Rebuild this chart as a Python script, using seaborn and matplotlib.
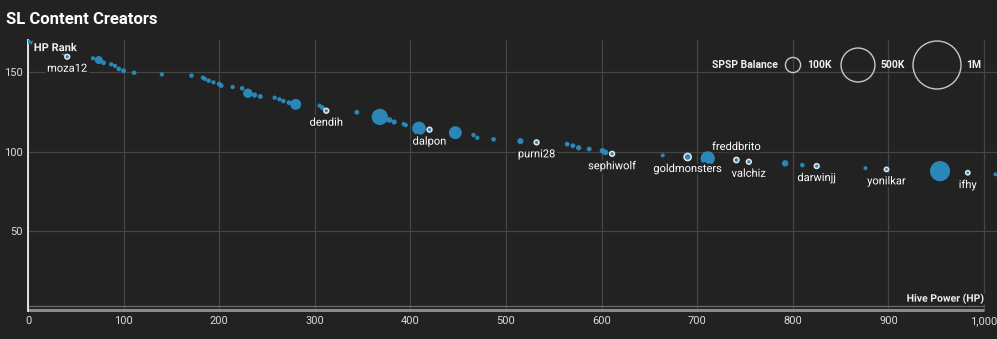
import matplotlib
matplotlib.use("Agg")
import matplotlib.pyplot as plt
import matplotlib.patheffects as pe
from matplotlib.ticker import FuncFormatter
import seaborn as sns
import pandas as pd

# ---- data ----
hp = [1, 5, 20, 26, 32, 37, 39, 41, 68, 74, 79, 87, 91, 95, 100, 111, 140, 171,
      183, 185, 189, 194, 200, 202, 214, 224, 230, 237, 243, 258, 263, 267, 273, 280,
      305, 308, 312, 344, 368, 378, 383, 393, 395, 409, 420, 447, 466, 470, 487, 515,
      532, 564, 570, 576, 587, 601, 604, 611, 664, 690, 711, 741, 754, 792, 810, 825,
      876, 898, 954, 983, 1012]
rank = [169.1, 168.5, 165.0, 164.0, 163.4, 162.0, 161.5, 159.8, 158.8, 157.7, 156.0,
        155.0, 154.0, 152.1, 151.0, 149.7, 148.7, 147.9, 146.6, 145.8, 144.7, 143.7,
        142.6, 141.6, 140.7, 139.9, 136.8, 135.7, 134.8, 134.0, 133.0, 131.9, 130.9,
        129.8, 129.0, 127.7, 125.8, 124.8, 121.9, 120.0, 118.7, 117.4, 116.8, 114.7,
        113.9, 112.0, 110.5, 108.8, 107.8, 106.7, 105.9, 104.8, 103.8, 102.5, 101.7,
        100.6, 99.6, 98.7, 97.7, 96.7, 95.8, 94.8, 93.7, 92.7, 91.6, 91.0, 89.7, 88.9,
        87.8, 86.8, 85.8]
balance_k = [8, 8, 8, 8, 8, 8, 8, 10, 8, 28, 10, 8, 8, 10, 10, 9, 8, 9, 8, 8, 9, 8,
             10, 10, 8, 9, 38, 12, 10, 8, 8, 9, 10, 52, 8, 10, 10, 10, 115, 14, 12, 8,
             9, 80, 10, 72, 8, 8, 9, 16, 10, 10, 10, 12, 10, 14, 14, 10, 7, 22, 88, 12,
             10, 18, 9, 10, 7, 8, 175, 8, 7]
names = [""] * len(hp)
labelled = {7: "moza12", 36: "dendih", 44: "dalpon", 50: "purni28", 57: "sephiwolf",
            59: "goldmonsters", 61: "freddbrito", 62: "valchiz", 65: "darwinjj",
            67: "yonilkar", 69: "ifhy"}
for i, n in labelled.items():
    names[i] = n
above = ["freddbrito"]

legend_values_k = [100, 500, 1000]
legend_labels = ["100K", "500K", "1M"]
x_ticks = [0, 100, 200, 300, 400, 500, 600, 700, 800, 900, 1000]
y_ticks = [50, 100, 150]

# ---- styling ----
BG = "#222222"
BLUE = "#2a87b8"
GRID = "#454545"
TXT = "#dadada"
MAX_S = 1194.0  # marker area (pt^2) for 1M

sns.set_theme(style="dark")
plt.rcParams["font.family"] = ["Roboto", "DejaVu Sans"]

df = pd.DataFrame({"hp": hp, "rank": rank, "balance": [b * 1000 for b in balance_k],
                   "name": names})

fig = plt.figure(figsize=(9.97, 3.39), dpi=100, facecolor=BG)
ax = fig.add_axes([28 / 997, (339 - 310.7) / 339, 969 / 997, 270.7 / 339])
ax.set_facecolor(BG)

plain = df[df["name"] == ""]
marked = df[df["name"] != ""]
sns.scatterplot(data=plain, x="hp", y="rank", size="balance", sizes=(0, MAX_S),
                size_norm=(0, 1e6), color=BLUE, linewidth=0, legend=False, ax=ax,
                zorder=3, alpha=1)
sns.scatterplot(data=marked, x="hp", y="rank", size="balance", sizes=(0, MAX_S),
                size_norm=(0, 1e6), color=BLUE, edgecolor="#e6e6e6", linewidth=1.1,
                legend=False, ax=ax, zorder=4, alpha=1)

stroke = [pe.withStroke(linewidth=3.5, foreground=BG)]
for _, r in marked.iterrows():
    off = 13 if r["name"] in above else -12
    ax.annotate(r["name"], (r["hp"], r["rank"]), xytext=(0, off),
                textcoords="offset pixels", ha="center", va="center",
                color="white", fontsize=8, path_effects=stroke, zorder=6)

ax.set_xlim(0, 1013.6)
ax.set_ylim(0, 170.3)
ax.set_xticks(x_ticks)
ax.set_yticks(y_ticks)
ax.xaxis.set_major_formatter(FuncFormatter(lambda v, p: f"{int(v):,}"))
ax.grid(True, color=GRID, linewidth=0.9)
ax.tick_params(axis="both", length=0, colors=TXT, labelsize=8)
ax.tick_params(axis="x", pad=4)
ax.tick_params(axis="y", pad=4)
ax.set_xlabel("")
ax.set_ylabel("")
for s in ["top", "right", "bottom"]:
    ax.spines[s].set_visible(False)
ax.spines["left"].set_color("#f0f0f0")
ax.spines["left"].set_linewidth(1.3)
ax.hlines([2.8], 0, 1000, color="#6a6a6a", linewidth=0.9, zorder=2)
ax.hlines([0.4], 0, 1000, color="#8a8a8a", linewidth=2.2, zorder=2, clip_on=False)

ax.text(0.006, 0.970, "HP Rank", transform=ax.transAxes, ha="left", va="center",
        color="#eeeeee", fontsize=8, fontweight="bold", path_effects=stroke, zorder=7)
ax.text(0.986, 0.045, "Hive Power (HP)", transform=ax.transAxes, ha="right",
        va="center", color="#eeeeee", fontsize=7.5, fontweight="bold",
        path_effects=stroke, zorder=7)

# size legend
ly = (310.7 - 65) / 270.7
ax.text((778 - 28) / 969, ly, "SPSP Balance", transform=ax.transAxes, ha="right",
        va="center", color="#eeeeee", fontsize=7.5, fontweight="bold", zorder=7)
cx = [(793 - 28) / 969, (858 - 28) / 969, (937 - 28) / 969]
tx = [(807 - 28) / 969, (880 - 28) / 969, (966 - 28) / 969]
ax.scatter(cx, [ly] * 3, s=[MAX_S * v / 1000 for v in legend_values_k],
           transform=ax.transAxes, facecolor="none", edgecolor="#c8c8c8",
           linewidth=1.0, zorder=7, clip_on=False)
for x, lab in zip(tx, legend_labels):
    ax.text(x, ly, lab, transform=ax.transAxes, ha="left", va="center",
            color="#eeeeee", fontsize=7.5, fontweight="bold", zorder=7)

fig.text(6 / 997, 1 - 19 / 339, "SL Content Creators", ha="left", va="center",
         color="white", fontsize=12, fontweight="bold")

fig.savefig("out.png", dpi=100, facecolor=BG)
